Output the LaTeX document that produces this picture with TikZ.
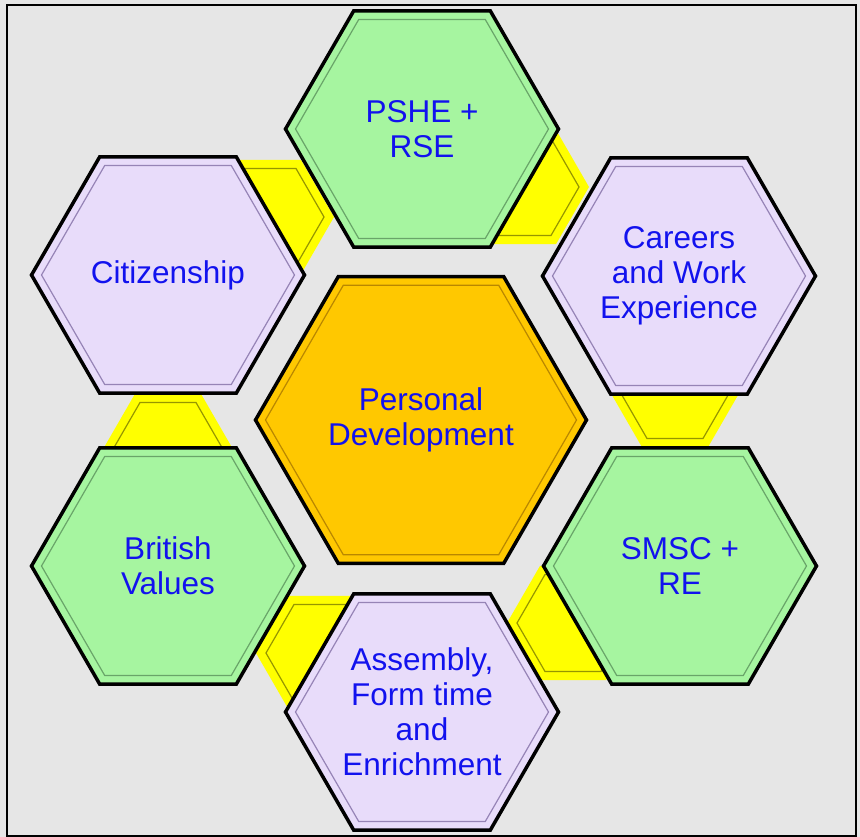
\documentclass[tikz,border=0pt]{standalone}
\usepackage{fontspec}
\setmainfont{Liberation Sans}
\usetikzlibrary{shapes.geometric}

\definecolor{panelgray}{RGB}{230,230,230}
\definecolor{hexgreen}{RGB}{166,245,160}
\definecolor{hexlilac}{RGB}{232,220,250}
\definecolor{hexorange}{RGB}{255,200,0}
\definecolor{hexyellow}{RGB}{255,255,0}
\definecolor{greenedge}{RGB}{105,165,105}
\definecolor{lilacedge}{RGB}{150,132,182}
\definecolor{orangeedge}{RGB}{185,135,0}
\definecolor{yellowedge}{RGB}{150,150,0}
\definecolor{textblue}{RGB}{18,18,238}

\begin{document}
\begin{tikzpicture}[x=1pt, y=-1pt]
% Styles
\tikzstyle{hex} = [regular polygon, regular polygon sides=6, inner sep=0pt, outer sep=0pt, align=center, text=textblue, font=\fontsize{31.5}{35}\selectfont]
\tikzstyle{bighex} = [hex, minimum size=273pt, draw=black, line width=3.5pt]
\tikzstyle{greenhex} = [bighex, fill=hexgreen]
\tikzstyle{lilachex} = [bighex, fill=hexlilac]
\tikzstyle{corehex} = [hex, minimum size=331pt, draw=black, line width=3.5pt, fill=hexorange]
\tikzstyle{linkhex} = [hex, minimum size=132pt, fill=hexyellow]
\tikzstyle{bevel} = [hex, line width=1.2pt]

% Frame
\useasboundingbox (0,0) rectangle (860,837);
\fill[panelgray] (0,0) rectangle (860,837);
\draw[line width=2pt] (7,5) rectangle (856,836);

% Yellow links, behind the ring
\node (link1) [linkhex] at (675,390) {};
\node (link2) [linkhex] at (523,187) {};
\node (link3) [linkhex] at (268,217) {};
\node (link4) [linkhex] at (168,451) {};
\node (link5) [linkhex] at (322,653) {};
\node (link6) [linkhex] at (573,623) {};
\foreach \n in {link1,link2,link3,link4,link5,link6}
  \node (\n-in) [bevel, minimum size=112pt, draw=yellowedge] at (\n) {};

% Ring
\node (pshe) [greenhex] at (422,129) {PSHE +\\RSE};
\node (careers) [lilachex] at (679,276) {Careers\\and Work\\Experience};
\node (smsc) [greenhex] at (680,566) {SMSC +\\RE};
\node (assembly) [lilachex] at (422,712) {Assembly,\\Form time\\and\\Enrichment};
\node (british) [greenhex] at (168,566) {British\\Values};
\node (citizen) [lilachex] at (168,275) {Citizenship};
\foreach \n in {pshe,smsc,british}
  \node (\n-in) [bevel, minimum size=253pt, draw=greenedge] at (\n) {};
\foreach \n in {careers,assembly,citizen}
  \node (\n-in) [bevel, minimum size=253pt, draw=lilacedge] at (\n) {};

% Centre
\node (core) [corehex] at (421,420) {Personal\\Development};
\node (core-in) [bevel, minimum size=311pt, draw=orangeedge] at (core) {};
\end{tikzpicture}
\end{document}
